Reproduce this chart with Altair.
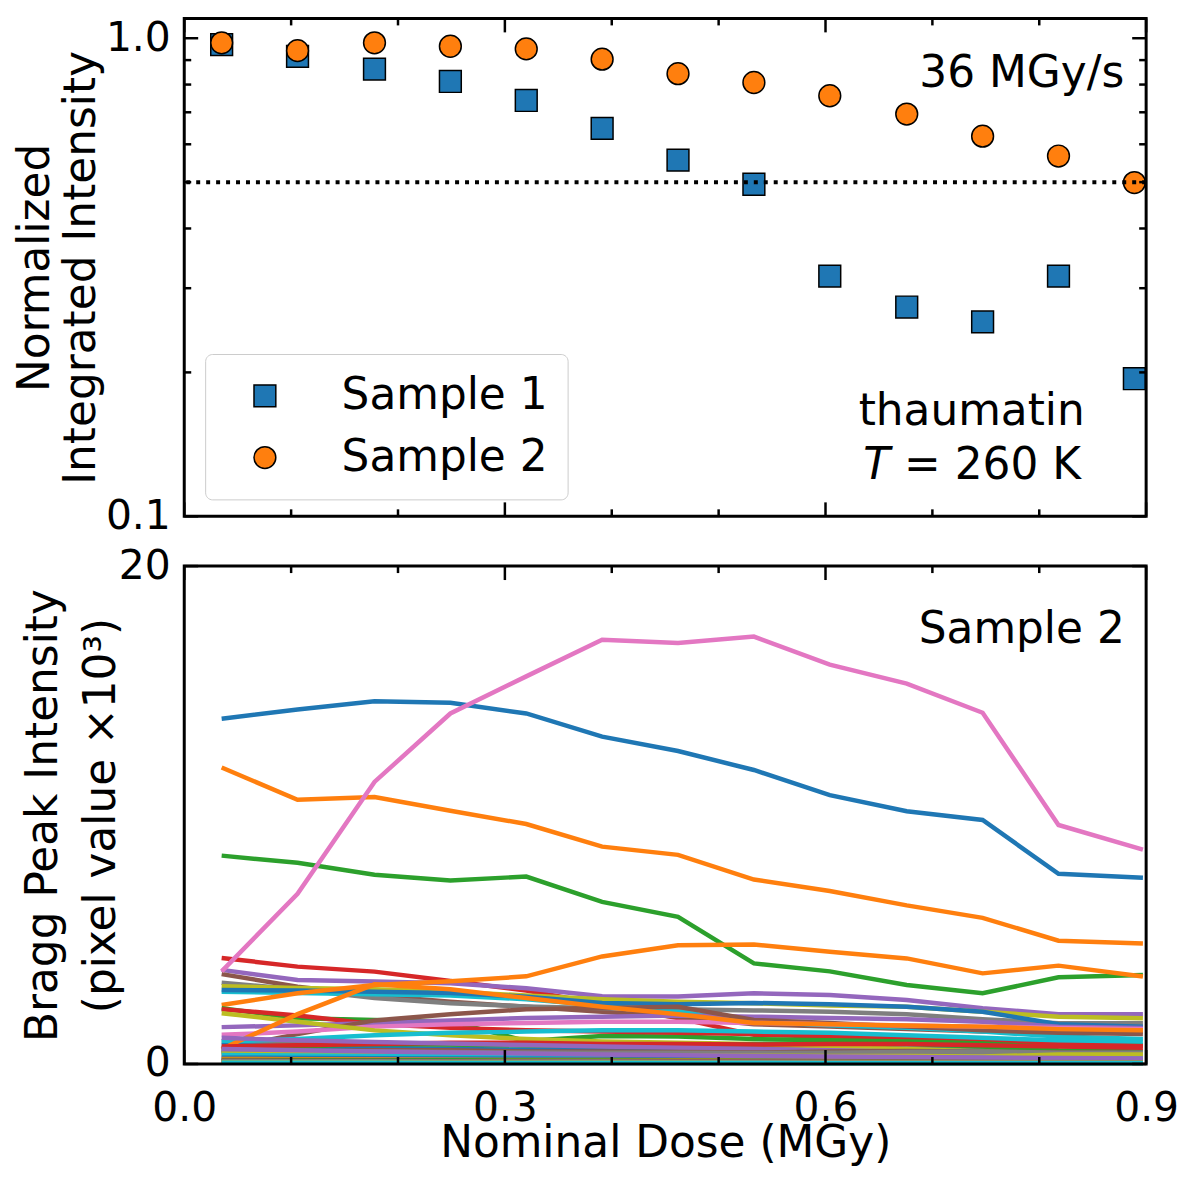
import altair as alt
import pandas as pd

# ---------------- data ----------------
DOSE = [0.035, 0.106, 0.178, 0.249, 0.320, 0.391, 0.462, 0.533, 0.604, 0.676, 0.747, 0.818, 0.889]
SAMPLE_1 = [0.970, 0.916, 0.862, 0.812, 0.741, 0.648, 0.556, 0.495, 0.318, 0.274, 0.255, 0.318, 0.194]
SAMPLE_2 = [0.978, 0.942, 0.978, 0.962, 0.950, 0.904, 0.843, 0.808, 0.758, 0.694, 0.624, 0.567, 0.499]
SAMPLES = ["Sample 1", "Sample 2"]
SAMPLE_COLORS = ["#1f77b4", "#ff7f0e"]
SAMPLE_SHAPES = ["square", "circle"]
HALF_LEVEL = [0.5]

LINE_DOSE = [0.035, 0.106, 0.178, 0.249, 0.320, 0.391, 0.462, 0.533, 0.604, 0.676, 0.747, 0.818, 0.897]

line_00 = [13.87, 14.24, 14.57, 14.51, 14.08, 13.15, 12.57, 11.81, 10.80, 10.15, 9.80, 7.64, 7.48]
line_01 = [11.91, 10.61, 10.72, 10.17, 9.64, 8.73, 8.40, 7.41, 6.95, 6.37, 5.87, 4.95, 4.84]
line_02 = [8.37, 8.08, 7.60, 7.37, 7.53, 6.51, 5.91, 4.04, 3.72, 3.17, 2.84, 3.48, 3.57]
line_03 = [4.26, 3.91, 3.71, 3.33, 2.95, 2.40, 1.84, 1.17, 1.10, 1.05, 1.00, 0.85, 0.75]
line_04 = [3.78, 3.37, 3.31, 3.24, 3.04, 2.72, 2.71, 2.84, 2.77, 2.57, 2.24, 2.00, 2.00]
line_05 = [3.61, 3.10, 2.75, 2.50, 2.30, 2.10, 1.90, 1.60, 1.50, 1.40, 1.30, 1.30, 1.30]
line_06 = [3.72, 6.84, 11.33, 14.08, 15.57, 17.04, 16.91, 17.17, 16.04, 15.28, 14.11, 9.60, 8.61]
line_07 = [3.26, 3.00, 2.65, 2.44, 2.31, 2.24, 2.20, 2.15, 2.10, 2.00, 1.80, 1.64, 1.64]
line_08 = [3.12, 3.05, 3.00, 2.90, 2.75, 2.60, 2.50, 2.44, 2.35, 2.30, 2.10, 1.90, 1.84]
line_09 = [2.90, 2.85, 2.80, 2.75, 2.60, 2.35, 2.10, 1.70, 1.55, 1.45, 1.30, 1.10, 1.00]
line_10 = [2.97, 2.95, 2.90, 2.85, 2.70, 2.45, 2.40, 2.45, 2.40, 2.30, 2.10, 1.60, 1.50]
line_11 = [2.37, 2.84, 3.17, 3.32, 3.52, 4.32, 4.77, 4.80, 4.51, 4.24, 3.64, 3.95, 3.51]
line_12 = [2.24, 1.84, 1.77, 1.71, 0.92, 1.12, 1.10, 1.00, 0.95, 0.90, 0.85, 0.80, 0.75]
line_13 = [2.20, 1.95, 1.60, 1.45, 1.35, 1.30, 1.25, 1.20, 1.15, 1.10, 1.00, 0.85, 0.72]
line_14 = [1.48, 1.55, 1.65, 1.75, 1.85, 1.90, 1.95, 1.90, 1.85, 1.80, 1.70, 1.50, 1.45]
line_15 = [0.60, 1.20, 1.75, 2.00, 2.20, 2.25, 2.30, 1.77, 1.65, 1.50, 1.35, 1.25, 1.20]
line_16 = [1.17, 1.30, 1.50, 1.60, 1.65, 1.70, 1.70, 1.65, 1.60, 1.55, 1.50, 1.45, 1.40]
line_17 = [0.90, 0.85, 0.80, 0.78, 0.75, 0.72, 0.70, 0.68, 0.66, 0.62, 0.60, 0.45, 0.45]
line_18 = [2.04, 1.70, 1.35, 1.15, 1.00, 0.90, 0.85, 0.80, 0.70, 0.60, 0.50, 0.45, 0.40]
line_19 = [0.90, 1.00, 1.15, 1.25, 1.30, 1.35, 1.35, 1.30, 1.25, 1.15, 1.05, 0.95, 0.90]
line_20 = [0.75, 0.70, 0.65, 0.60, 0.58, 0.55, 0.52, 0.50, 0.48, 0.46, 0.45, 0.42, 0.40]
line_21 = [0.60, 2.00, 3.20, 3.00, 2.65, 2.30, 2.00, 1.65, 1.60, 1.55, 1.50, 1.40, 1.35]
line_22 = [0.45, 0.70, 0.80, 0.78, 0.75, 0.72, 0.75, 0.80, 0.82, 0.80, 0.70, 0.55, 0.50]
line_23 = [0.70, 0.75, 0.80, 0.85, 0.85, 0.80, 0.80, 0.78, 0.80, 0.80, 0.75, 0.70, 0.65]
line_24 = [1.05, 0.95, 0.88, 0.82, 0.76, 0.70, 0.65, 0.60, 0.55, 0.50, 0.45, 0.40, 0.36]
line_25 = [0.50, 0.50, 0.55, 0.55, 0.50, 0.50, 0.48, 0.46, 0.50, 0.52, 0.50, 0.46, 0.45]
line_26 = [0.32, 0.30, 0.29, 0.28, 0.26, 0.25, 0.24, 0.23, 0.22, 0.21, 0.20, 0.18, 0.17]
line_27 = [0.55, 0.52, 0.50, 0.48, 0.46, 0.45, 0.45, 0.44, 0.45, 0.48, 0.50, 0.45, 0.45]
line_28 = [0.42, 0.40, 0.38, 0.36, 0.35, 0.34, 0.33, 0.33, 0.32, 0.32, 0.30, 0.38, 0.38]
line_29 = [0.36, 0.34, 0.32, 0.31, 0.30, 0.29, 0.28, 0.27, 0.26, 0.25, 0.24, 0.22, 0.21]
line_30 = [0.25, 0.24, 0.23, 0.22, 0.21, 0.20, 0.19, 0.18, 0.18, 0.17, 0.16, 0.15, 0.15]
line_31 = [0.20, 0.19, 0.18, 0.17, 0.16, 0.16, 0.15, 0.14, 0.14, 0.13, 0.12, 0.12, 0.11]
line_32 = [0.16, 0.16, 0.15, 0.15, 0.14, 0.14, 0.13, 0.13, 0.12, 0.12, 0.11, 0.11, 0.10]
line_33 = [0.13, 0.12, 0.12, 0.11, 0.11, 0.10, 0.10, 0.10, 0.09, 0.09, 0.09, 0.08, 0.08]
line_34 = [0.60, 0.55, 0.50, 0.46, 0.42, 0.38, 0.35, 0.32, 0.30, 0.28, 0.26, 0.24, 0.22]
line_35 = [0.10, 0.10, 0.09, 0.09, 0.09, 0.08, 0.08, 0.08, 0.07, 0.07, 0.07, 0.06, 0.06]
line_36 = [0.08, 0.08, 0.07, 0.07, 0.07, 0.06, 0.06, 0.06, 0.06, 0.05, 0.05, 0.05, 0.05]
line_37 = [0.12, 0.11, 0.11, 0.10, 0.10, 0.10, 0.09, 0.09, 0.09, 0.08, 0.08, 0.08, 0.07]
line_38 = [0.06, 0.06, 0.06, 0.05, 0.05, 0.05, 0.05, 0.04, 0.04, 0.04, 0.04, 0.04, 0.04]
line_39 = [0.05, 0.05, 0.05, 0.04, 0.04, 0.04, 0.04, 0.04, 0.03, 0.03, 0.03, 0.03, 0.03]

LINES = [line_00, line_01, line_02, line_03, line_04, line_05, line_06, line_07, line_08, line_09,
         line_10, line_11, line_12, line_13, line_14, line_15, line_16, line_17, line_18, line_19,
         line_20, line_21, line_22, line_23, line_24, line_25, line_26, line_27, line_28, line_29,
         line_30, line_31, line_32, line_33, line_34, line_35, line_36, line_37, line_38, line_39]

TAB10 = ["#1f77b4", "#ff7f0e", "#2ca02c", "#d62728", "#9467bd",
         "#8c564b", "#e377c2", "#7f7f7f", "#bcbd22", "#17becf"]

X_RANGE = [0.0, 0.9]
X_MAJOR = [0.0, 0.3, 0.6, 0.9]
X_MINOR = [0.1, 0.2, 0.4, 0.5, 0.7, 0.8]
LOG_RANGE = [0.1, 1.1]
LOG_MAJOR = [0.1, 1.0]
LOG_MINOR = [0.2, 0.3, 0.4, 0.5, 0.6, 0.7, 0.8, 0.9]
LIN_RANGE = [0, 20]
LIN_MAJOR = [0, 20]

RATE_LABEL = ["36 MGy/s"]
PROTEIN_LABEL = ["thaumatin"]
TEMP_SYMBOL = ["T"]
TEMP_LABEL = ["= 260 K"]
PANEL_LABEL = ["Sample 2"]

# ---------------- layout / styling ----------------
W = 966          # plot width
PH = 500         # each panel's height
GAP = 50         # gap between the panels
TOTAL_H = 2 * PH + GAP
B0 = PH + GAP    # top edge of lower panel
FONT = "DejaVu Sans"
TICK_FS = 41
TEXT_FS = 44
MAJOR_LEN, MINOR_LEN = 14, 7
TICK_W = 2.5

scatter_df = pd.DataFrame({
    "dose": DOSE + DOSE,
    "intensity": SAMPLE_1 + SAMPLE_2,
    "sample": [SAMPLES[0]] * len(DOSE) + [SAMPLES[1]] * len(DOSE),
})

rows = []
for i, vals in enumerate(LINES):
    for d, v in zip(LINE_DOSE, vals):
        rows.append({"dose": d, "value": v, "line": f"L{i:02d}"})
lines_df = pd.DataFrame(rows)
line_ids = [f"L{i:02d}" for i in range(len(LINES))]
line_colors = [TAB10[i % 10] for i in range(len(LINES))]

xscale = alt.Scale(domain=X_RANGE, nice=False, zero=False)
top_y = alt.Scale(type="log", domain=LOG_RANGE, range=[PH, 0], nice=False)
bot_y = alt.Scale(domain=LIN_RANGE, range=[TOTAL_H, B0], nice=False, zero=False)


def x_ticks(values, length, edge, inward):
    # inward ticks along a horizontal panel edge
    return alt.Chart(pd.DataFrame({"t": values})).mark_rule(color="black", strokeWidth=TICK_W).encode(
        x=alt.X("t:Q", scale=xscale),
        y=alt.value(edge), y2=alt.value(edge + inward * length))


def y_ticks(values, length, yscale):
    base = alt.Chart(pd.DataFrame({"t": values}))
    left = base.mark_rule(color="black", strokeWidth=TICK_W).encode(
        y=alt.Y("t:Q", scale=yscale, axis=None),
        x=alt.value(0), x2=alt.value(length))
    right = base.mark_rule(color="black", strokeWidth=TICK_W).encode(
        y=alt.Y("t:Q", scale=yscale, axis=None),
        x=alt.value(W), x2=alt.value(W - length))
    return [left, right]


def text_layer(label, xv, yv, yscale, align, italic=False):
    kw = dict(align=align, baseline="alphabetic", fontSize=TEXT_FS, font=FONT, color="black")
    if italic:
        kw["fontStyle"] = "italic"
    return alt.Chart(pd.DataFrame({"label": label})).mark_text(**kw).encode(
        x=alt.XDatum(xv, scale=xscale),
        y=alt.YDatum(yv, scale=yscale, axis=None),
        text="label:N")


def frame(ylo, yhi, yscale):
    return alt.Chart(pd.DataFrame({"k": [0]})).mark_rect(
        fillOpacity=0, stroke="black", strokeWidth=3
    ).encode(
        x=alt.XDatum(X_RANGE[0], scale=xscale), x2=alt.datum(X_RANGE[1]),
        y=alt.YDatum(ylo, scale=yscale, axis=None), y2=alt.datum(yhi))


legend = alt.Legend(
    title=None, orient="none", legendX=21, legendY=337,
    padding=20, rowPadding=18, symbolOffset=18, labelOffset=55,
    labelFontSize=TEXT_FS, labelFont=FONT, labelColor="black", labelLimit=400,
    symbolSize=480, symbolStrokeColor="black", symbolStrokeWidth=1.5,
    fillColor="rgba(255,255,255,0.8)", strokeColor="#cccccc", cornerRadius=7,
)

# ---- upper panel ----
points = alt.Chart(scatter_df).mark_point(
    filled=True, opacity=1, size=480, stroke="black", strokeWidth=1.5
).encode(
    x=alt.X("dose:Q", scale=xscale),
    y=alt.Y("intensity:Q", scale=top_y,
            axis=alt.Axis(orient="left", values=LOG_MAJOR, format=".1f", ticks=False, domain=False,
                          grid=False, labelPadding=14, labelFontSize=TICK_FS, labelFlush=False,
                          labelOverlap=False, title=["Normalized", "Integrated Intensity"],
                          titleX=-136, titleY=PH / 2, titleAngle=270, titleAlign="center",
                          titleBaseline="alphabetic", titleLineHeight=46)),
    color=alt.Color("sample:N", scale=alt.Scale(domain=SAMPLES, range=SAMPLE_COLORS), legend=legend),
    shape=alt.Shape("sample:N", scale=alt.Scale(domain=SAMPLES, range=SAMPLE_SHAPES), legend=legend),
)

half_rule = alt.Chart(pd.DataFrame({"h": HALF_LEVEL})).mark_rule(
    color="black", strokeWidth=4, strokeDash=[4, 6]
).encode(y=alt.Y("h:Q", scale=top_y, axis=None))

# ---- lower panel ----
lines = alt.Chart(lines_df).mark_line(strokeWidth=4.5).encode(
    x=alt.X("dose:Q", scale=xscale,
            axis=alt.Axis(values=X_MAJOR, format=".1f", ticks=False, domain=False, grid=False,
                          labelPadding=25, labelFontSize=TICK_FS, labelFlush=False, labelOverlap=False,
                          title="Nominal Dose (MGy)", titleX=W / 2, titleY=93,
                          titleAlign="center", titleBaseline="alphabetic")),
    y=alt.Y("value:Q", scale=bot_y,
            axis=alt.Axis(orient="left", values=LIN_MAJOR, format="d", ticks=False, domain=False,
                          grid=False, labelPadding=14, labelFontSize=TICK_FS, labelFlush=False,
                          labelOverlap=False, title=["Bragg Peak Intensity", "(pixel value ×10³)"],
                          titleX=-128, titleY=B0 + PH / 2, titleAngle=270, titleAlign="center",
                          titleBaseline="alphabetic", titleLineHeight=58)),
    color=alt.Color("line:N", scale=alt.Scale(domain=line_ids, range=line_colors), legend=None),
    order=alt.Order("dose:Q"),
)

layers = [lines, points, half_rule]
# inward x ticks on all four horizontal edges
for vals, ln in ((X_MAJOR, MAJOR_LEN), (X_MINOR, MINOR_LEN)):
    layers += [x_ticks(vals, ln, 0, 1), x_ticks(vals, ln, PH, -1),
               x_ticks(vals, ln, B0, 1), x_ticks(vals, ln, TOTAL_H, -1)]
layers += y_ticks(LOG_MAJOR, MAJOR_LEN, top_y) + y_ticks(LOG_MINOR, MINOR_LEN, top_y)
layers += y_ticks(LIN_MAJOR, MAJOR_LEN, bot_y)
layers += [
    text_layer(RATE_LABEL, 0.8795, 0.789, top_y, "right"),
    text_layer(PROTEIN_LABEL, 0.7368, 0.1556, top_y, "center"),
    text_layer(TEMP_SYMBOL, 0.6354, 0.1196, top_y, "left", italic=True),
    text_layer(TEMP_LABEL, 0.6735, 0.1196, top_y, "left"),
    text_layer(PANEL_LABEL, 0.880, 16.9, bot_y, "right"),
    frame(LOG_RANGE[0], LOG_RANGE[1], top_y),
    frame(LIN_RANGE[0], LIN_RANGE[1], bot_y),
]

chart = alt.layer(*layers).resolve_scale(
    y="independent", color="independent", shape="independent"
).properties(
    width=W, height=TOTAL_H,
    autosize=alt.AutoSizeParams(type="none"),
    padding={"left": 177, "top": 8, "right": 32, "bottom": 104},
).configure(font=FONT).configure_view(
    strokeWidth=0
).configure_axis(
    labelFont=FONT, titleFont=FONT, labelColor="black", titleColor="black",
    titleFontSize=TEXT_FS, titleFontWeight="normal"
).configure_legend(
    labelFont=FONT
)

chart.save("out.html", embed_options={"renderer": "svg", "actions": False})
